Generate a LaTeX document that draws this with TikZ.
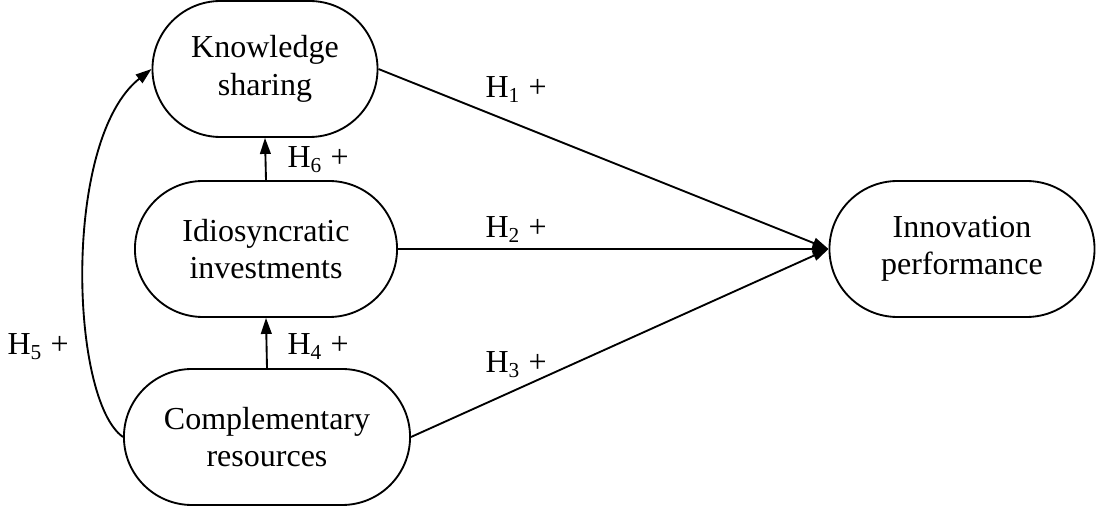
\documentclass[tikz,border=0pt]{standalone}
\usepackage{fontspec}
\setmainfont{Liberation Serif}
\usetikzlibrary{arrows.meta}

\begin{document}
\begin{tikzpicture}[
		x=0.375pt, y=-0.375pt,
		font=\fontsize{12pt}{14pt}\selectfont,
		construct/.style={draw, rectangle, rounded corners=25.5pt, align=center,
			minimum height=51pt, inner sep=0pt, line width=0.7pt},
		hyp/.style={-{Triangle[length=6pt, width=4pt]}, line width=0.7pt},
		hlabel/.style={anchor=base west, inner sep=0pt}
		]
		\useasboundingbox (0,0) rectangle (1097,509);
		
		% constructs
		\node[construct, minimum width=84.4pt] (ks) at (265,69) {Knowledge\\sharing};
		\node[construct, minimum width=98.3pt] (idio) at (266,249) {Idiosyncratic\\investments};
		\node[construct, minimum width=107.3pt] (comp) at (267,437) {Complementary\\resources};
		\node[construct, minimum width=99.4pt] (innov) at (962,249) {Innovation\\performance};
		
		% hypotheses
		\draw[hyp] (ks.east) -- (innov.west);
		\draw[hyp] (idio.east) -- (innov.west);
		\draw[hyp] (comp.east) -- (innov.west);
		\draw[hyp] (comp.north) -- (idio.south);
		\draw[hyp] (idio.north) -- (ks.south);
		\draw[hyp] (comp.west) .. controls (70,400) and (62,140) .. (ks.west);
		
		\node[hlabel] (h1) at (485,98) {H\textsubscript{1} +};
		\node[hlabel] (h2) at (485,238) {H\textsubscript{2} +};
		\node[hlabel] (h3) at (485,373) {H\textsubscript{3} +};
		\node[hlabel] (h4) at (287,355) {H\textsubscript{4} +};
		\node[hlabel] (h5) at (7,355) {H\textsubscript{5} +};
		\node[hlabel] (h6) at (287,168) {H\textsubscript{6} +};
		
	\end{tikzpicture}
\end{document}
